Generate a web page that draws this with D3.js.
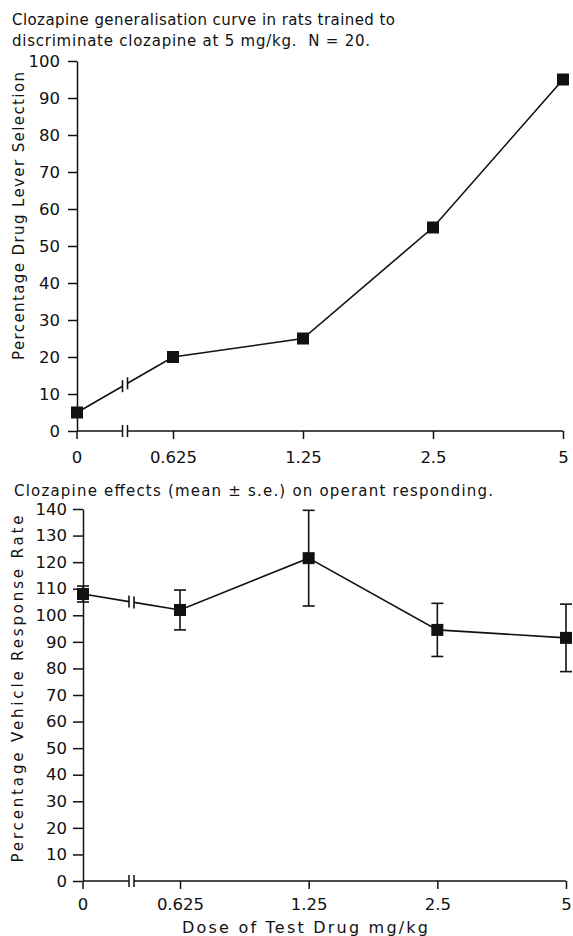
<!DOCTYPE html>
<html>
<head>
<meta charset="utf-8">
<script src="https://cdn.jsdelivr.net/npm/d3@7"></script>
<style>
  body { margin: 0; background: #fff; }
  text { font-family: "DejaVu Sans", sans-serif; fill: #111; }
</style>
</head>
<body>
<div id="chart"></div>
<script>
// data
var doses = [0, 0.625, 1.25, 2.5, 5];
var doseLabels = ["0", "0.625", "1.25", "2.5", "5"];
var leverSelection = [5, 20, 25, 55, 95];
var responseRate = [108, 102, 121.5, 94.5, 91.5];
var responseSE = [3, 7.5, 18, 10, 12.7];
var leverTicks = [0, 10, 20, 30, 40, 50, 60, 70, 80, 90, 100];
var rateTicks = [0, 10, 20, 30, 40, 50, 60, 70, 80, 90, 100, 110, 120, 130, 140];

var svg = d3.select("#chart").append("svg").attr("width", 573).attr("height", 936);

function drawPanel(cfg) {
    var y = d3.scaleLinear().domain([0, cfg.yMax]).range([cfg.bottom, cfg.top]);
    var xl = d3.scaleLog().domain([doses[1], doses[doses.length - 1]]).range([cfg.first, cfg.right]);
    var x = function(d) { return d === 0 ? cfg.left : xl(d); };
    var breakX = (x(doses[0]) + x(doses[1])) / 2;
    var gap = 5;

    // titles
    cfg.title.forEach(function(t, i) {
        svg.append("text")
            .attr("x", cfg.titleX).attr("y", cfg.titleY + i * 21)
            .attr("textLength", cfg.titleLen[i]).attr("lengthAdjust", "spacing")
            .style("font-size", "15px").style("white-space", "pre")
            .text(t);
    });

    // y axis
    var ya = svg.append("g")
        .attr("transform", "translate(" + cfg.left + ",0)")
        .call(d3.axisLeft(y).tickValues(cfg.ticks).tickSize(cfg.tick).tickPadding(cfg.pad).tickSizeOuter(0));
    ya.selectAll("path, line").attr("stroke", "#111").attr("stroke-width", 1.5);
    ya.selectAll("text").style("font-size", "16.5px");

    // x axis: log part for non-zero doses, zero placed at the origin
    var xa = svg.append("g")
        .attr("transform", "translate(0," + cfg.bottom + ")")
        .call(d3.axisBottom(xl).tickValues(doses.slice(1))
            .tickFormat(function(d, i) { return doseLabels[i + 1]; })
            .tickSize(8).tickPadding(cfg.xpad));
    xa.select(".domain").remove();
    var zt = xa.append("g").attr("class", "tick").attr("transform", "translate(" + x(0) + ",0)");
    zt.append("line").attr("y2", 8);
    zt.append("text").attr("y", 8 + cfg.xpad).attr("dy", "0.71em").attr("text-anchor", "middle").text(doseLabels[0]);
    xa.selectAll("line").attr("stroke", "#111").attr("stroke-width", 1.5);
    xa.selectAll("text").style("font-size", "16.5px").attr("fill", "#111");

    // axis line with break
    xa.append("line").attr("x1", x(0)).attr("x2", breakX - gap / 2)
        .attr("stroke", "#111").attr("stroke-width", 1.5);
    xa.append("line").attr("x1", breakX + gap / 2).attr("x2", x(doses[doses.length - 1]))
        .attr("stroke", "#111").attr("stroke-width", 1.5);
    [-1, 1].forEach(function(s) {
        xa.append("line").attr("x1", breakX + s * gap / 2).attr("x2", breakX + s * gap / 2)
            .attr("y1", -6).attr("y2", 6).attr("stroke", "#111").attr("stroke-width", 1.5);
    });

    // y axis title
    svg.append("text")
        .attr("transform", "translate(" + cfg.ylabX + "," + cfg.ylabY + ") rotate(-90)")
        .attr("text-anchor", "middle")
        .attr("textLength", cfg.ylabLen).attr("lengthAdjust", "spacing")
        .style("font-size", "15px")
        .text(cfg.ylabel);

    var pts = doses.map(function(d, i) { return { d: d, v: cfg.values[i], e: cfg.errors ? cfg.errors[i] : null }; });

    // error bars
    if (cfg.errors) {
        var eb = svg.append("g").selectAll("g").data(pts).enter().append("g");
        eb.append("line")
            .attr("x1", function(p) { return x(p.d); }).attr("x2", function(p) { return x(p.d); })
            .attr("y1", function(p) { return y(p.v + p.e); }).attr("y2", function(p) { return y(p.v - p.e); });
        [1, -1].forEach(function(s) {
            eb.append("line")
                .attr("x1", function(p) { return x(p.d) - 6; }).attr("x2", function(p) { return x(p.d) + 6; })
                .attr("y1", function(p) { return y(p.v + s * p.e); }).attr("y2", function(p) { return y(p.v + s * p.e); });
        });
        eb.selectAll("line").attr("stroke", "#111").attr("stroke-width", 1.6);
    }

    // data line, broken between 0 and the first dose
    var p0 = [x(pts[0].d), y(pts[0].v)], p1 = [x(pts[1].d), y(pts[1].v)];
    var slope = (p1[1] - p0[1]) / (p1[0] - p0[0]);
    var yAt = function(xx) { return p0[1] + slope * (xx - p0[0]); };
    var dl = svg.append("g");
    dl.append("line").attr("x1", p0[0]).attr("y1", p0[1])
        .attr("x2", breakX - gap / 2).attr("y2", yAt(breakX - gap / 2));
    dl.append("path")
        .attr("d", d3.line()([[breakX + gap / 2, yAt(breakX + gap / 2)]].concat(pts.slice(1).map(function(p) { return [x(p.d), y(p.v)]; }))))
        .attr("fill", "none");
    [-1, 1].forEach(function(s) {
        var bx = breakX + s * gap / 2;
        dl.append("line").attr("x1", bx).attr("x2", bx)
            .attr("y1", yAt(bx) - 6).attr("y2", yAt(bx) + 6);
    });
    dl.selectAll("line, path").attr("stroke", "#111").attr("stroke-width", 1.6);

    // square markers
    svg.append("g").selectAll("rect").data(pts).enter().append("rect")
        .attr("x", function(p) { return x(p.d) - cfg.ms / 2; })
        .attr("y", function(p) { return y(p.v) - cfg.ms / 2; })
        .attr("width", cfg.ms).attr("height", cfg.ms)
        .attr("fill", "#111");
}

drawPanel({
    title: ["Clozapine generalisation curve in rats trained to", "discriminate clozapine at 5 mg/kg.  N = 20."],
    titleX: 12, titleY: 25, titleLen: [383, 358],
    left: 77, first: 173, right: 563, top: 61, bottom: 431, yMax: 100,
    ticks: leverTicks, tick: 9, pad: 8, xpad: 12,
    ylabel: "Percentage Drug Lever Selection", ylabX: 24, ylabY: 216, ylabLen: 288,
    values: leverSelection, errors: null, ms: 12
});

drawPanel({
    title: ["Clozapine effects (mean \u00b1 s.e.) on operant responding."],
    titleX: 14, titleY: 496, titleLen: [479],
    left: 83, first: 180, right: 566, top: 509, bottom: 881, yMax: 140,
    ticks: rateTicks, tick: 10, pad: 6, xpad: 9,
    ylabel: "Percentage Vehicle Response Rate", ylabX: 23, ylabY: 689, ylabLen: 347,
    values: responseRate, errors: responseSE, ms: 12
});

svg.append("text")
    .attr("x", 305).attr("y", 933)
    .attr("text-anchor", "middle")
    .attr("textLength", 246).attr("lengthAdjust", "spacing")
    .style("font-size", "16px")
    .text("Dose of Test Drug mg/kg");
</script>
</body>
</html>
